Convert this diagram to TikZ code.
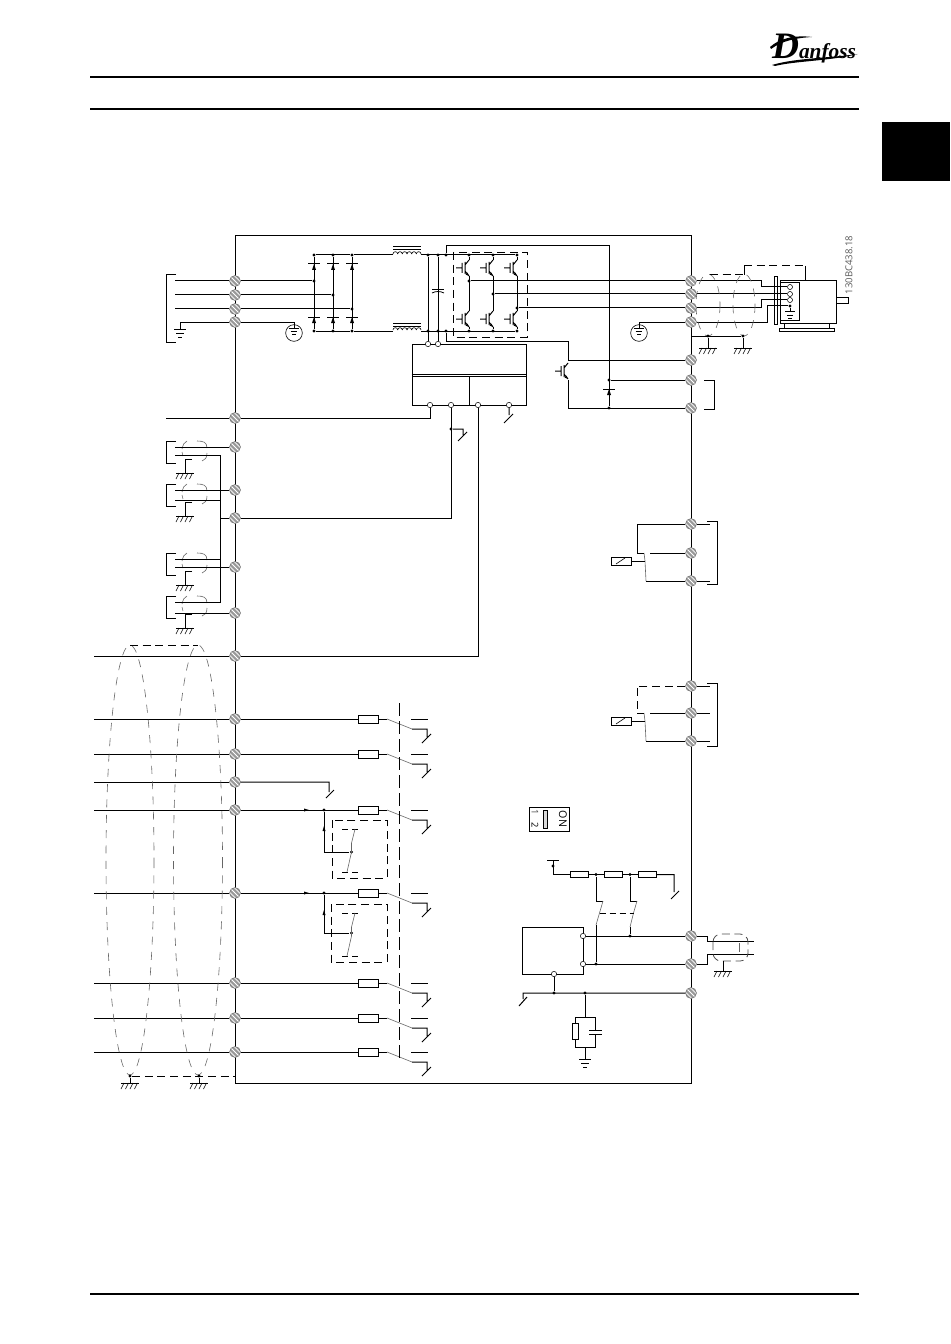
\documentclass[tikz,border=0pt]{standalone}
\usepackage{fontspec}
\setsansfont{Open Sans}
\newfontfamily\logofont{Liberation Serif}
\tikzset{
  Klemme/.style={circle,draw=black!55,fill=black!40,inner sep=0pt,minimum size=8.2pt,line width=.4pt,
    path picture={\foreach \d in {-1.7pt,0pt,1.7pt}
      \draw[white,line width=.55pt] ([shift={(-6pt+\d,6pt+\d)}]path picture bounding box.center)
        -- ([shift={(6pt+\d,-6pt+\d)}]path picture bounding box.center);}}, % Schraubklemme
  Punkt/.style={circle,fill,inner sep=0pt,minimum size=2.4pt}, % Knoten
  Offen/.style={circle,draw,line width=.4pt,fill=white,inner sep=0pt,minimum size=4pt}, % Anschluss
  Wstd/.style={draw,fill=white,inner sep=0pt,minimum width=15pt,minimum height=6pt},
  Kasten/.style={draw,inner sep=0pt},
  Strich/.style={dash pattern=on 6pt off 3.5pt}, % Strichlinie schwarz
  Trenn/.style={dash pattern=on 10pt off 3.5pt}, % Koppellinie
  Arm/.style={draw=black!60,line width=.45pt}, % Schaltarm
  Schirm/.style={draw=black!60,line width=.45pt,dash pattern=on 6pt off 5.5pt}, % Kabelschirm
  Igbt/.pic={
    \draw (0,-8) -- (-4,-3) (-4,-6) -- (-4,6) (-7,-5) -- (-7,5) (-13,0) -- (-7,0) (-4,3) -- (0,8);
    \fill (0,8) -- (-3.5,6.5) -- (-1.5,4.5) -- cycle;},
  Diode/.pic={
    \draw (-6,0) -- (6,0);
    \fill (0,0) -- (2,6) -- (-2,6) -- cycle;},
  Erde/.pic={
    \draw (-6,0) -- (6,0) (-4,4) -- (4,4) (-2,8) -- (2,8);},
  Masse/.pic={
    \draw (-9,0) -- (9,0);
    \foreach \i in {-6,-1.5,3,7.5} \draw[line width=.45pt] (\i,0) -- (\i-3,6);},
  Drossel/.pic={
    \draw (-14,-8) -- (14,-8) (-14,-5) -- (14,-5);
    \foreach \i in {0,...,5} \draw[line width=.45pt] (-14+\i*4.67,-1) arc (180:360:2.33);},
  PfeilR/.pic={\fill (-3,-1.5) -- (2,0) -- (-3,1.5) -- cycle;},
  PfeilO/.pic={\fill (-1.5,3) -- (0,-2) -- (1.5,3) -- cycle;}
}
\begin{document}
\begin{tikzpicture}[x=.75pt,y=-.75pt,line width=.75pt]
\useasboundingbox (0,0) rectangle (950,1344);

%Seitenkopf
\coordinate (KopfL) at (90,77);
\coordinate (KopfR) at (859,77);
\coordinate (Kopf2L) at (90,109);
\coordinate (Kopf2R) at (859,109);
\coordinate (FussL) at (90,1294);
\coordinate (FussR) at (859,1294);
\draw[line width=1.5pt] (KopfL) -- (KopfR);
\draw[line width=1.5pt] (Kopf2L) -- (Kopf2R);
\draw[line width=1.5pt] (FussL) -- (FussR);
\fill (882,122) rectangle (950,181);
\node[inner sep=0pt] (Logo) at (814,49) {\logofont\bfseries\itshape{\fontsize{28}{28}\selectfont D}\fontsize{16}{16}\selectfont anfoss};
\fill (770,47) .. controls (780,38) and (795,35) .. (812,37) .. controls (795,38) and (782,41) .. (771,49) -- cycle;
\fill (772,65) .. controls (795,58) and (830,58) .. (858,54) .. controls (830,61) and (795,61) .. (775,66) -- cycle;
\node[rotate=90,text=black!65,font=\sffamily\fontsize{7.2}{8}\selectfont,inner sep=0pt] (Nummer) at (849,265) {130BC438.18};

%Rahmen
\coordinate (RahmenLO) at (235,236);
\coordinate (RahmenRU) at (691,1083);
\draw (RahmenLO) rectangle (RahmenRU);

%Klemmen
\foreach \n/\y in {1/281,2/295,3/309,4/322,5/418,6/447,7/490,8/518,9/567,10/613,11/656,12/719,13/754,14/782,15/810,16/893,17/983,18/1018,19/1052}
  \node[Klemme] (TL\n) at (235,\y) {};
\foreach \n/\y in {1/281,2/294,3/308,4/322,5/360,6/380,7/408,8/524,9/553,10/581,11/686,12/713,13/741,14/936,15/964,16/993}
  \node[Klemme] (TR\n) at (691,\y) {};

%Netzeingang
\coordinate (NetzO) at (176,275);
\coordinate (NetzM) at (166,275);
\coordinate (NetzU) at (176,342);
\draw (NetzO) -- (NetzM) |- (NetzU);
\foreach \n in {1,2,3} {
  \coordinate (EN\n) at (175,0 |- TL\n);
  \draw (EN\n) -- (TL\n);
}
\coordinate (PE) at (180,0 |- TL4);
\coordinate (PEu) at (180,329);
\draw (TL4) -- (PE) -- (PEu);
\pic at (PEu) {Erde};
\coordinate (PE2) at (294,0 |- TL4);
\coordinate (PE2u) at (294,328);
\draw (TL4) -- (PE2) -- (PE2u);
\pic[scale=.85] at (PE2u) {Erde};
\node[draw,circle,line width=.45pt,inner sep=0pt,minimum size=12.5pt] (PEkreis) at (294,333) {};

%Gleichrichter
\foreach \s/\x in {1/314,2/333,3/352} {
  \node[Punkt] (GO\s) at (\x,255) {};
  \node[Punkt] (GU\s) at (\x,331) {};
  \node[Punkt] (GM\s) at (\x,0 |- TL\s) {};
  \draw (GO\s) -- (GU\s);
  \draw (TL\s) -- (GM\s);
  \pic at (\x,264) {Diode};
  \pic at (\x,317) {Diode};
}
\draw (GO1) -- (GO3);
\draw (GU1) -- (GU3);

%Drosseln
\coordinate (DrOl) at (393,255);
\coordinate (DrOr) at (421,255);
\coordinate (DrUl) at (393,331);
\coordinate (DrUr) at (421,331);
\pic at (407,255) {Drossel};
\pic at (407,331) {Drossel};
\draw (GO3) -- (DrOl);
\draw (GU3) -- (DrUl);

%Zwischenkreis
\foreach \s/\x in {A/428,B/438,C/446} {
  \node[Punkt] (Bus\s o) at (\x,255) {};
  \node[Punkt] (Bus\s u) at (\x,331) {};
}
\foreach \c/\x in {1/469,2/493,3/517} {
  \node[Punkt] (WO\c) at (\x,255) {};
  \node[Punkt] (WU\c) at (\x,331) {};
  \node[Punkt] (WM\c) at (\x,0 |- TR\c) {};
  \draw (WM\c) -- (TR\c);
  \coordinate (WA\c) at (\x,260);
  \coordinate (WB\c) at (\x,276);
  \coordinate (WC\c) at (\x,311);
  \coordinate (WD\c) at (\x,327);
  \draw (WO\c) -- (WA\c);
  \draw (WB\c) -- (WC\c);
  \draw (WD\c) -- (WU\c);
  \pic at (\x,268) {Igbt};
  \pic at (\x,319) {Igbt};
}
\draw (DrOr) -- (WO3);
\draw (DrUr) -- (WU3);
\draw[Strich,line width=.7pt] (453,252) rectangle (527,337);

%Kondensator
\coordinate (CapO) at (438,289);
\coordinate (CapU) at (438,292);
\draw[line width=.6pt] (432,289) -- (444,289);
\draw[line width=.6pt] (432,293) .. controls (436,291) and (440,291) .. (444,293);

%Steuerung
\node[Kasten,minimum width=85.5pt,minimum height=45.75pt] (St) at (469,374.5) {};
\draw (St.west) -- (St.east);
\draw (412,376.5) -- (526,376.5);
\draw (469,376.5) -- (469,405);
\node[Offen] (OA) at (428,344) {};
\node[Offen] (OB) at (438,344) {};
\node[Offen] (U1) at (430,405) {};
\node[Offen] (U2) at (451,405) {};
\node[Offen] (U3) at (478,405) {};
\node[Offen] (U4) at (509,405) {};
\draw (BusAo) -- (OA);
\draw (BusBo) -- (OB);
\draw (TL5) -| (U1);
\draw (TL8) -| (U2);
\draw (TL11) -| (U3);
\coordinate (U4s) at (509,415);
\draw (U4) -- (U4s) ++(-5,8) -- ++(9,-9);
\node[Punkt] (Sp) at (451,429) {};
\coordinate (SpE) at (463,435);
\draw (Sp) -| (SpE) ++(-5,6) -- ++(9,-9);

%Brems-IGBT und Ausgangsdiode
\coordinate (Fw0) at (609,246);
\coordinate (Br0) at (568,341);
\coordinate (BrK) at (568,0 |- TR5);
\coordinate (BrA) at (568,380);
\coordinate (BrE) at (568,0 |- TR7);
\node[Punkt] (Fw1) at (609,0 |- TR6) {};
\node[Punkt] (Fw2) at (609,0 |- TR7) {};
\draw (BusCo) |- (Fw0) -- (Fw2);
\draw (BusCu) |- (Br0) -- (BrK) -- (TR5);
\draw (BrA) -- (BrE) -- (TR7);
\draw (Fw1) -- (TR6);
\pic at (568,371) {Igbt};
\pic at (609,389) {Diode};
\coordinate (BrBo) at (704,380);
\coordinate (BrBu) at (704,409);
\draw (BrBo) -| (714,394) |- (BrBu);

%Motor
\coordinate (EM1) at (761,0 |- TR1);
\coordinate (EM1b) at (761,287);
\coordinate (EM3) at (761,0 |- TR3);
\coordinate (EM3b) at (761,300);
\coordinate (EM4) at (767,0 |- TR4);
\coordinate (EM4b) at (767,306);
\node[Kasten,minimum width=42pt,minimum height=31.5pt] (Motor) at (808,302) {};
\node[Kasten,minimum width=9pt,minimum height=4.5pt] (Welle) at (842,301) {};
\node[Kasten,minimum width=14.25pt,minimum height=28.5pt] (Platte) at (789.5,301.5) {};
\node[Kasten,fill=white,minimum width=2.25pt,minimum height=35.25pt] (Flansch) at (775.5,300.5) {};
\node[Kasten,minimum width=41.25pt,minimum height=2.25pt] (Sockel) at (807,330) {};
\draw (784,323) -- (784,329) (829,323) -- (829,329);
\node[Offen,minimum size=3.8pt] (M1) at (790,287) {};
\node[Offen,minimum size=3.8pt] (M2) at (790,294) {};
\node[Offen,minimum size=3.8pt] (M3) at (790,300) {};
\node[Punkt] (M4) at (790,306) {};
\draw (TR1) -- (EM1) -- (EM1b) -- (M1);
\draw (TR2) -- (M2 -| TR2.east) -- (M2);
\draw (TR3) -- (EM3) -- (EM3b) -- (M3);
\draw (TR4) -- (EM4) -- (EM4b) -- (M4);
\coordinate (M4u) at (790,312);
\draw (M4) -- (M4u);
\pic[scale=.8] at (M4u) {Erde};

%Motorkabel Schirm
\draw[Schirm] (708,305) ellipse [x radius=12,y radius=31];
\draw[Schirm] (744,305) ellipse [x radius=11,y radius=31];
\coordinate (SO1) at (710,275);
\coordinate (SO2) at (744,275);
\coordinate (SO3) at (744,266);
\coordinate (SO4) at (805,266);
\coordinate (SO5) at (805,281);
\draw[Strich] (SO1) -- (SO2);
\draw (SO2) -- (SO3);
\draw[Strich] (SO3) -- (SO4);
\draw (SO4) -- (SO5);
\coordinate (SL) at (691,336);
\node[Punkt] (SG1) at (708,336) {};
\node[Punkt] (SG2) at (743,336) {};
\draw (SL) -- (SG2);
\coordinate (SM1) at (708,348);
\coordinate (SM2) at (743,348);
\draw (SG1) -- (SM1);
\draw (SG2) -- (SM2);
\pic at (SM1) {Masse};
\pic at (SM2) {Masse};
\coordinate (PE3) at (639,0 |- TR4);
\coordinate (PE3u) at (639,328);
\draw (TR4) -- (PE3) -- (PE3u);
\pic[scale=.85] at (PE3u) {Erde};
\node[draw,circle,line width=.45pt,inner sep=0pt,minimum size=12.5pt] (PE3kreis) at (639,333) {};

%Steuerleitung links
\coordinate (E5) at (166,0 |- TL5);
\draw (E5) -- (TL5);

%Abgeschirmte Eingaenge
\foreach \g/\y in {1/441,2/484,3/553,4/596} {
  \draw (176,\y) -- (166,\y) -- (166,\y+22) -- (176,\y+22);
  \draw[Arm] (187,\y) .. controls (184,\y+1) and (183,\y+4) .. (182,\y+8);
  \draw[Arm] (182,\y+11) -- (183,\y+15);
  \draw[Arm] (197,\y) .. controls (203,\y) and (207,\y+1) .. (207,\y+7);
  \draw[Arm] (207,\y+12) .. controls (207,\y+17) and (205,\y+19) .. (202,\y+20);
  \draw (192,\y+18) -- (185,\y+18) -- (185,\y+32);
  \pic at (185,\y+32) {Masse};
}
\foreach \n in {6,7,9,10} {
  \coordinate (EG\n) at (175,0 |- TL\n);
  \draw (EG\n) -- (TL\n);
}
\coordinate (S1l) at (175,455);
\coordinate (S1) at (220,455);
\coordinate (S2l) at (175,500);
\coordinate (S2) at (221,500);
\coordinate (S3l) at (175,559);
\coordinate (S3) at (221,559);
\coordinate (S4l) at (175,602);
\coordinate (S4) at (220,602);
\coordinate (SM) at (220,0 |- TL8);
\draw (S1l) -- (S1) -- (S4) -- (S4l);
\draw (S2l) -- (S2);
\draw (S3l) -- (S3);
\draw (SM) -- (TL8);

%Digitaleingaenge
\foreach \n in {11,12,13,14,15,16,17,18,19} {
  \coordinate (EL\n) at (94,0 |- TL\n);
  \draw (EL\n) -- (TL\n);
}
\foreach \n in {12,13,15,16,17,18,19} {
  \node[Wstd] (R\n) at (368,0 |- TL\n) {};
  \coordinate (KA\n) at (387,0 |- TL\n);
  \draw (TL\n) -- (R\n);
  \draw (R\n) -- (KA\n);
  \draw[Arm] (KA\n) -- ++(25,10);
  \draw (KA\n) ++(25,10) -- ++(15,0) -- ++(0,8) ++(-5,6) -- ++(9,-9);
  \draw (KA\n) ++(24,0) -- ++(17,0);
}
\coordinate (D14) at (329,0 |- TL14);
\coordinate (D14u) at (329,792);
\draw (TL14) -- (D14) -- (D14u) ++(-3,6) -- ++(8,-8);
\coordinate (TrO) at (399,703);
\coordinate (TrU) at (399,1060);
\draw[Trenn] (TrO) -- (TrU);

%Sichere Eingaenge
\foreach \n/\t/\b/\m/\l in {15/820/878/852/332,16/904/962/933/331} {
  \node[Punkt] (J\n) at (324,0 |- TL\n) {};
  \node[Punkt] (K\n) at (351.5,\m) {};
  \draw (J\n) |- (K\n);
  \pic at (307,0 |- TL\n) {PfeilR};
  \pic at (324,\t+8) {PfeilO};
  \draw[Strich] (\l,\t) rectangle (387,\b);
  \draw[dash pattern=on 4.5pt off 3pt,line width=.6pt] (342,\t+9) -- (360,\t+9);
  \draw[dash pattern=on 4.5pt off 3pt,line width=.6pt] (342,\t+52) -- (360,\t+52);
  \draw[Arm] (355,\t+9) -- (351.5,\t+23) -- (351.5,\t+32) -- (347,\t+52);
}

%Relais
\foreach \o/\c/\u/\s/\k in {8/9/10/521/557,11/12/13/683/717} {
  \coordinate (Rk\c) at (637,0 |- TR\c);
  \coordinate (Ra\c) at (644,0 |- TR\c);
  \coordinate (Rb\c) at (650,0 |- TR\c);
  \coordinate (Ru\u) at (646,0 |- TR\u);
  \coordinate (Rs\c) at (645,\k+4);
  \draw (Rb\c) -- (TR\c);
  \draw (Ru\u) -- (TR\u);
  \draw[Arm] (Ra\c) -- (Rs\c) -- (Ru\u);
  \node[Wstd,minimum width=15pt] (Sp\c) at (621,\k+4) {};
  \draw (Sp\c) -- (Rs\c);
  \draw[line width=.45pt] (616,\k+7) -- (625,\k+1);
  \draw (707,\s) -- (717,\s) -- (717,\s+63) -- (707,\s+63);
  \coordinate (St\o) at (710,0 |- TR\o);
  \coordinate (St\u) at (710,0 |- TR\u);
  \draw (TR\o) -- (St\o);
  \draw (TR\u) -- (St\u);
}
\draw (TR8) -| (Rk9) -- (Ra9);
\draw[Strich] (TR11) -| (Rk12);
\draw (Rk12) -- (Ra12);
\coordinate (St12) at (710,0 |- TR12);
\draw (TR12) -- (St12);

%DIP-Schalter
\node[Kasten,minimum width=30pt,minimum height=18pt] (Dip) at (549,819) {};
\node[Kasten,fill=black!15,minimum width=3pt,minimum height=13.5pt,line width=.45pt] (DipS) at (545,819) {};
\node[rotate=-90,font=\sffamily\fontsize{8}{9}\selectfont,inner sep=0pt] (On) at (563,819) {ON};
\node[rotate=-90,font=\sffamily\fontsize{7}{8}\selectfont,text=black!70,inner sep=0pt] (Eins) at (535,812) {1};
\node[rotate=-90,font=\sffamily\fontsize{7}{8}\selectfont,inner sep=0pt] (Zwei) at (535,825) {2};

%Analogteil
\node[Kasten,minimum width=45.75pt,minimum height=35.25pt] (Ana) at (552.5,950.5) {};
\node[Offen] (A1) at (583,0 |- TR14) {};
\node[Offen] (A2) at (583,0 |- TR15) {};
\node[Offen] (A3) at (554,974) {};
\draw (A1) -- (TR14);
\draw (A2) -- (TR15);
\node[Wstd,minimum width=13.5pt,minimum height=4pt] (RA) at (579,874.5) {};
\node[Wstd,minimum width=13.5pt,minimum height=4pt] (RB) at (613,874.5) {};
\node[Wstd,minimum width=13.5pt,minimum height=4pt] (RC) at (647,874.5) {};
\coordinate (VT) at (553,860);
\node[Punkt] (VTp) at (553,866) {};
\coordinate (VK) at (553,874.5);
\node[Punkt] (PA) at (596,874.5) {};
\node[Punkt] (PB) at (630,874.5) {};
\coordinate (VE) at (674,874.5);
\coordinate (VEu) at (674,892);
\draw (547,860) -- (559,860);
\draw (VT) -- (VK) -- (RA);
\draw (RA) -- (RB);
\draw (RB) -- (RC);
\draw (RC) -- (VE) -- (VEu) ++(-3,7) -- ++(8,-8);
\coordinate (PAo) at (603,901);
\coordinate (PBo) at (637,901);
\draw (PA) |- (PAo);
\draw (PB) |- (PBo);
\node[Punkt] (PAu) at (596,0 |- TR15) {};
\node[Punkt] (PBu) at (630,0 |- TR14) {};
\coordinate (PAa) at (596,925);
\coordinate (PBa) at (630,927);
\draw (PAa) -- (PAu);
\draw (PBa) -- (PBu);
\draw[Arm] (PAo) -- (599.5,913) -- (PAa);
\draw[Arm] (PBo) -- (633.5,913) -- (PBa);
\draw[dash pattern=on 5pt off 2.5pt,line width=.6pt] (599.5,913) -- (633.5,913);
\node[Punkt] (A4) at (554,0 |- TR16) {};
\draw (A3) -- (A4);
\coordinate (AE) at (523,0 |- TR16);
\draw (TR16) -- (AE) -- ++(0,6) ++(-4,7) -- ++(8,-9);
\node[Punkt] (A5) at (585,0 |- TR16) {};
\coordinate (FO) at (585,1017);
\coordinate (FU) at (585,1047);
\coordinate (FE) at (585,1059);
\draw (A5) -- (FO);
\draw (575,1017) rectangle (595,1047);
\node[Wstd,minimum width=4.5pt,minimum height=12pt] (RF) at (575,1031) {};
\fill[white] (592,1030.5) rectangle (598,1033.5);
\draw (589,1030) -- (602,1030) (589,1034) -- (602,1034);
\draw (FU) -- (FE);
\pic at (FE) {Erde};

%Analogkabel
\coordinate (Ka1) at (707,0 |- TR14);
\coordinate (Ka1b) at (707,941);
\coordinate (Ka1e) at (754,941);
\coordinate (Ka2) at (707,0 |- TR15);
\coordinate (Ka2b) at (707,954);
\coordinate (Ka2e) at (754,954);
\draw (TR14) -- (Ka1) -- (Ka1b) -- (Ka1e);
\draw (TR15) -- (Ka2) -- (Ka2b) -- (Ka2e);
\draw[Strich,draw=black!70,line width=.6pt,rounded corners=6] (713,934) rectangle (748,961);
\draw[Arm] (739,943) -- (739,952);
\coordinate (KaG) at (723,961);
\coordinate (KaM) at (723,971);
\draw (KaG) -- (KaM);
\pic at (KaM) {Masse};

%Schirm Digitalkabel
\draw[Schirm] (130,860) ellipse [x radius=24,y radius=215];
\draw[Schirm] (198,860) ellipse [x radius=24.5,y radius=215];
\coordinate (BO1) at (130,645);
\coordinate (BO2) at (198,645);
\draw[Strich] (BO1) -- (BO2);
\node[Punkt] (BU1) at (130,1076) {};
\node[Punkt] (BU2) at (199,1076) {};
\coordinate (BUR) at (235,1076);
\draw[Strich] (BU1) -- (BUR);
\coordinate (BM1) at (130,1083);
\coordinate (BM2) at (199,1083);
\draw (BU1) -- (BM1);
\draw (BU2) -- (BM2);
\pic at (BM1) {Masse};
\pic at (BM2) {Masse};

\end{tikzpicture}
\end{document}
